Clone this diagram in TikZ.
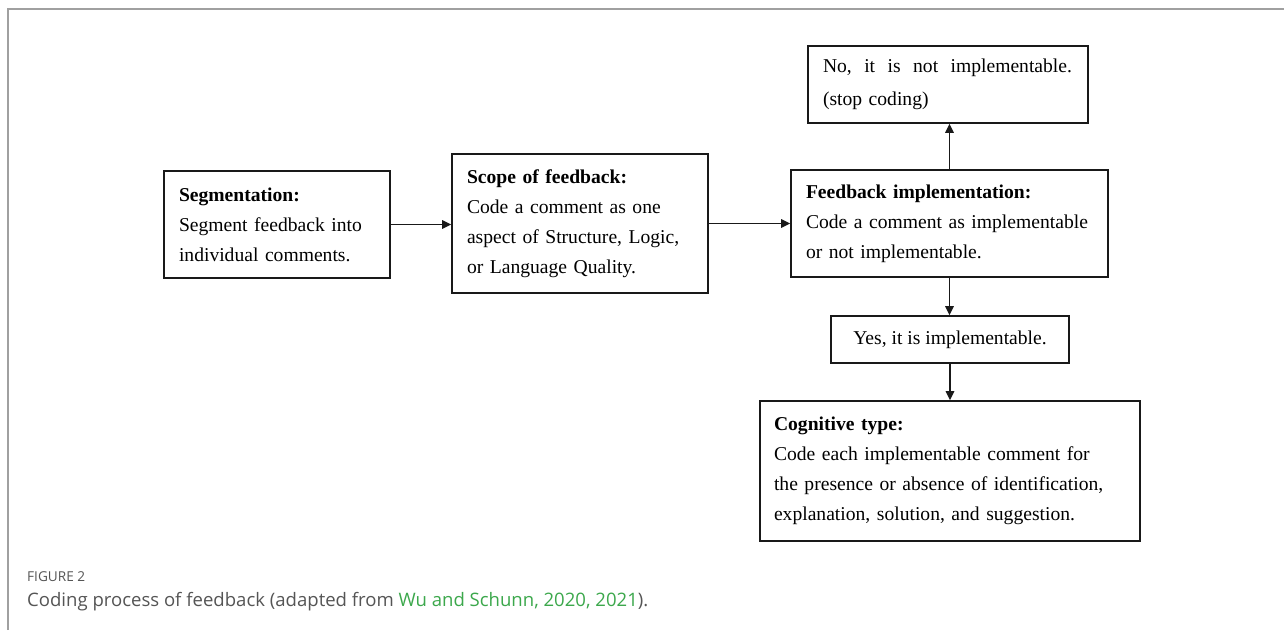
\documentclass[tikz,border=0pt]{standalone}
\usepackage{fontspec}
\setmainfont{Liberation Serif}
\newfontfamily\capfont{Open Sans}
\usetikzlibrary{arrows.meta}
\definecolor{capgray}{RGB}{85,85,85}
\definecolor{capgreen}{RGB}{60,168,76}
\definecolor{framegray}{RGB}{160,160,160}
\tikzset{
  box/.style={draw=black!90, line width=1.7pt, inner sep=0pt, align=left,
    font=\fontsize{19.6}{30}\selectfont},
  conn/.style={line width=1.5pt, draw=black!90, -{Triangle[length=9pt,width=8.5pt]}},
}
\begin{document}
\begin{tikzpicture}[x=1pt,y=-1pt]
\useasboundingbox[fill=white] (0,0) rectangle (1284,630);
\draw[framegray, line width=1.5pt] (8,630) -- (8,9) -- (1284,9);

\node[box, minimum width=226pt, minimum height=107pt, text width=196pt] (seg) at (277,224.5)
  {\textbf{Segmentation:}\\\mbox{Segment feedback into}\\\mbox{individual comments.}};
\node[box, minimum width=256pt, minimum height=139pt, text width=226pt] (scope) at (580,223.5)
  {\textbf{Scope of feedback:}\\\mbox{Code a comment as one}\\\mbox{aspect of Structure, Logic,}\\\mbox{or Language Quality.}};
\node[box, minimum width=317pt, minimum height=107pt, text width=287pt] (impl) at (949.5,223.5)
  {\textbf{Feedback implementation:}\\\mbox{Code a comment as implementable}\\\mbox{or not implementable.}};
\node[box, minimum width=280pt, minimum height=77pt, text width=250pt,
  font=\fontsize{19.6}{33}\selectfont] (no) at (948,84.5)
  {\makebox[249pt][l]{No,\hfill it\hfill is\hfill not\hfill implementable.}\\(stop coding)};
\node[box, minimum width=238pt, minimum height=47pt, align=center] (yes) at (950,339.5)
  {Yes, it is implementable.};
\node[box, minimum width=380pt, minimum height=140pt, text width=352pt] (cog) at (950,471)
  {\textbf{Cognitive type:}\\\mbox{Code each implementable comment for}\\\mbox{the presence or absence of identification,}\\\mbox{explanation, solution, and suggestion.}};

\draw[conn] (seg.east) -- (seg.east -| scope.west);
\draw[conn] (scope.east) -- (scope.east -| impl.west);
\draw[conn] (impl.north) -- (impl.north |- no.south);
\draw[conn] (impl.south) -- (impl.south |- yes.north);
\draw[conn] (yes.south) -- (yes.south |- cog.north);

\node[anchor=west, inner sep=0pt, text=capgray] (figlabel) at (27,577)
  {\resizebox{58pt}{!}{\capfont FIGURE 2}};
\node[anchor=west, inner sep=0pt, text=capgray] (figcap) at (27,602)
  {\resizebox{621pt}{!}{\capfont Coding process of feedback (adapted from \textcolor{capgreen}{Wu and Schunn, 2020, 2021}).}};
\end{tikzpicture}
\end{document}
